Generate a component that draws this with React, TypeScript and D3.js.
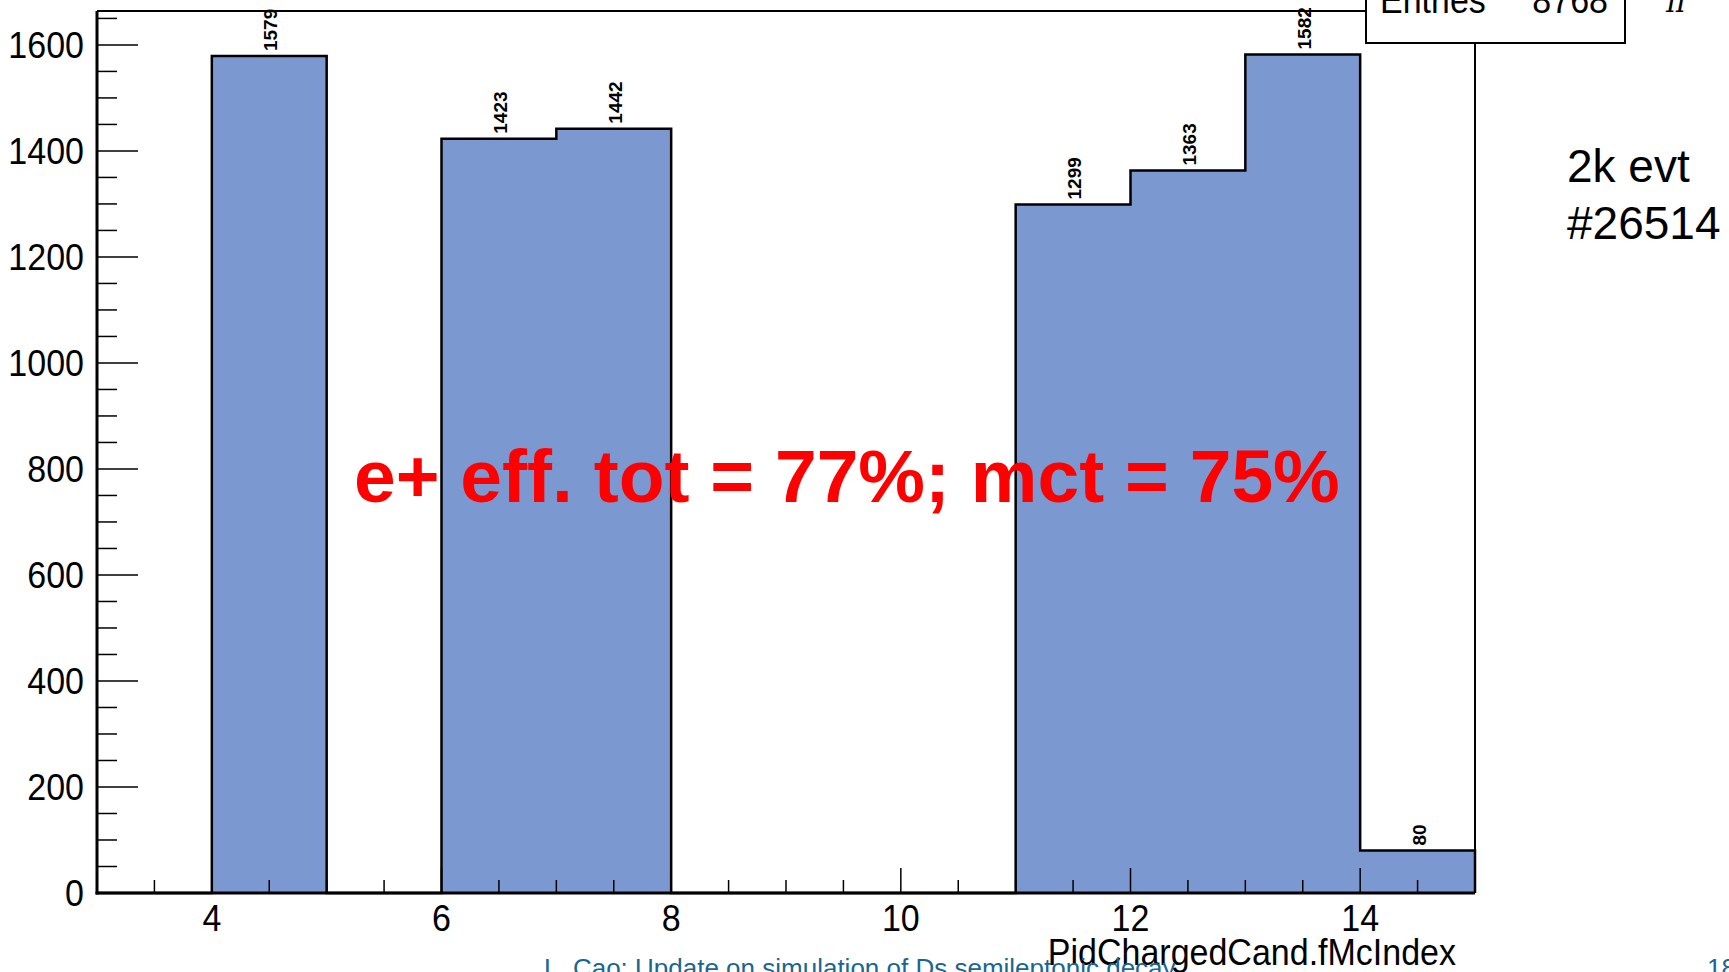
import React from "react";
import * as d3 from "d3";

// ---- data ----
const binEdges = [3, 4, 5, 6, 7, 8, 9, 10, 11, 12, 13, 14, 15];
const binCounts = [0, 1579, 0, 1423, 1442, 0, 0, 0, 1299, 1363, 1582, 80];
const xTickLabels = [4, 6, 8, 10, 12, 14];
const yTickLabels = [0, 200, 400, 600, 800, 1000, 1200, 1400, 1600];
const entries = 8768;
const xTitle = "PidChargedCand.fMcIndex";
const overlayText = "e+ eff. tot = 77%; mct = 75%";
const noteLines = ["2k evt", "#26514"];
const footerText = "L. Cao: Update on simulation of Ds semileptonic decay";
const pageNumber = "18";

const W = 1729;
const H = 972;
const FONT = "'Liberation Sans', Arial, Helvetica, sans-serif";

function SText(props: {
  x: number;
  y: number;
  size: number;
  anchor?: string;
  children: React.ReactNode;
}) {
  return (
    <text
      transform={`translate(${props.x},${props.y}) scale(1,1.1)`}
      textAnchor={props.anchor || "start"}
      fontSize={props.size}
      fill="#000"
    >
      {props.children}
    </text>
  );
}

export default function App() {
  const x = d3.scaleLinear().domain([3, 15]).range([97, 1475]);
  const y = d3.scaleLinear().domain([0, 1664]).range([893, 11]);

  // histogram step outline
  const pts: [number, number][] = [];
  binCounts.forEach((c, i) => {
    pts.push([binEdges[i], c]);
    pts.push([binEdges[i + 1], c]);
  });
  const allPts: [number, number][] = [
    [binEdges[0], 0],
    ...pts,
    [binEdges[binEdges.length - 1], 0],
  ];
  const stepPath =
    d3.line<[number, number]>().x((d) => x(d[0])).y((d) => y(d[1]))(allPts) || "";

  const xMinor = d3.range(3.5, 15, 0.5).filter((v) => !xTickLabels.includes(v));
  const yMinor = d3.range(50, 1664, 50).filter((v) => v % 200 !== 0);

  const fill = "rgb(123,152,208)";

  return (
    <svg
      width={W}
      height={H}
      style={{ position: "absolute", left: 0, top: 0, background: "#fff" }}
      fontFamily={FONT}
    >
      <rect x={0} y={0} width={W} height={H} fill="#fff" />

      {/* filled histogram */}
      <path d={stepPath + "Z"} fill={fill} stroke="none" />

      {/* frame top and right */}
      <line x1={x(3)} x2={x(15)} y1={y(1664)} y2={y(1664)} stroke="#000" strokeWidth={2} />
      <line x1={x(15)} x2={x(15)} y1={y(1664)} y2={y(0)} stroke="#000" strokeWidth={2} />

      {/* step outline */}
      <path d={stepPath} fill="none" stroke="#000" strokeWidth={2.5} />

      {/* axes */}
      <line x1={x(3)} x2={x(3)} y1={y(1664)} y2={y(0) + 1.5} stroke="#000" strokeWidth={3} />
      <line x1={x(3) - 1.5} x2={x(15)} y1={y(0)} y2={y(0)} stroke="#000" strokeWidth={3} />

      {/* x ticks */}
      {xMinor.map((v) => (
        <line key={"xm" + v} x1={x(v)} x2={x(v)} y1={y(0)} y2={y(0) - 13} stroke="#000" strokeWidth={1.5} />
      ))}
      {xTickLabels.map((v) => (
        <g key={"xM" + v}>
          <line x1={x(v)} x2={x(v)} y1={y(0)} y2={y(0) - 25} stroke="#000" strokeWidth={1.5} />
          <SText x={x(v)} y={931} size={34} anchor="middle">
            {v}
          </SText>
        </g>
      ))}

      {/* y ticks */}
      {yMinor.map((v) => (
        <line key={"ym" + v} x1={x(3)} x2={x(3) + 20} y1={y(v)} y2={y(v)} stroke="#000" strokeWidth={1.5} />
      ))}
      {yTickLabels.map((v) => (
        <g key={"yM" + v}>
          <line x1={x(3)} x2={x(3) + 41} y1={y(v)} y2={y(v)} stroke="#000" strokeWidth={1.5} />
          <SText x={84} y={y(v) + 13} size={34} anchor="end">
            {v}
          </SText>
        </g>
      ))}

      {/* bin value labels */}
      {binCounts.map((c, i) => {
        if (c <= 0) return null;
        const cx = (x(binEdges[i]) + x(binEdges[i + 1])) / 2 + 8;
        const cy = y(c) - 5;
        return (
          <text
            key={"l" + i}
            transform={`translate(${cx},${cy}) rotate(-90)`}
            fontSize={19}
            fontWeight="bold"
            fill="#000"
          >
            {c}
          </text>
        );
      })}

      {/* stats box */}
      <rect x={1366} y={-40} width={259} height={83} fill="#fff" stroke="#000" strokeWidth={2} />
      <SText x={1380} y={13} size={34}>
        Entries
      </SText>
      <SText x={1608} y={13} size={34} anchor="end">
        {entries}
      </SText>
      <text x={1666} y={12} fontSize={30} fontStyle="italic" fontFamily="'DejaVu Serif', serif" fill="#000">
        π
      </text>

      {/* x title */}
      <SText x={1456} y={965} size={34} anchor="end">
        {xTitle}
      </SText>

      {/* notes */}
      {noteLines.map((t, i) => (
        <text key={"n" + i} x={1567} y={182 + i * 57} fontSize={46} fill="#000">
          {t}
        </text>
      ))}

      {/* red overlay */}
      <text x={354} y={502} fontSize={75} fontWeight="bold" fill="#ff0000">
        {overlayText}
      </text>

      {/* footer */}
      <text x={544} y={977} fontSize={26} fill="#1a6690">
        {footerText}
      </text>
      <text x={1707} y={977} fontSize={26} fill="#1a6690">
        {pageNumber}
      </text>
    </svg>
  );
}
